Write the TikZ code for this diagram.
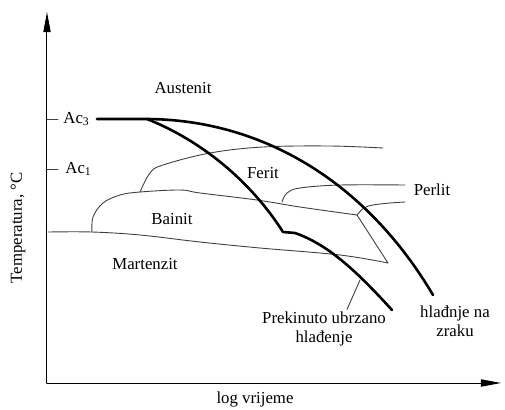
\documentclass[tikz,border=0pt]{standalone}
\usepackage{fontspec}
\setmainfont{Liberation Serif}
\usetikzlibrary{arrows.meta}
\begin{document}
\begin{tikzpicture}[x=0.5pt, y=-0.5pt, line join=round, line cap=round,
        thin line/.style={line width=0.45pt, black!75},
        thick line/.style={line width=1.3pt},
        axis/.style={line width=0.5pt, -{Triangle[length=10pt, width=3.6pt]}},
        lbl/.style={font=\fontsize{8.4}{9.5}\selectfont, inner sep=1pt}]
    \useasboundingbox (0,0) rectangle (505,409);
    \coordinate (O) at (47,383);
    \coordinate (Ytop) at (47,12);
    \coordinate (Xend) at (501,383);
    \draw[axis] (O) -- (Ytop);
    \draw[axis] (O) -- (Xend);

    % ticks and labels
    \coordinate (T3) at (58,119);
    \coordinate (T1) at (58,169);
    \draw[thin line] (47,119) -- (T3);
    \draw[thin line] (47,169) -- (T1);
    \node[lbl, anchor=west] (Ac3) at (61,119) {Ac\textsubscript{3}};
    \node[lbl, anchor=west] (Ac1) at (63,169) {Ac\textsubscript{1}};

    \node[lbl, rotate=90] (ylab) at (18,228) {Temperatura, °C};
    \node[lbl] (xlab) at (255,399) {log vrijeme};

    % transformation lines
    \draw[thin line] plot[smooth, tension=0.6] coordinates {(48,232) (92,232) (140,235) (200,242) (260,248) (340,255) (388,263)};
    \draw[thin line] plot[smooth, tension=0.6] coordinates {(92,232) (93,217) (103,203) (120,195) (140,192) (180,190) (200,193) (257,200) (300,207) (357,215)};
    \draw[thin line] plot[smooth, tension=0.6] coordinates {(140,192) (150,173) (163,165) (210,153) (263,147) (330,146) (383,148)};
    \draw[thin line] plot[smooth, tension=0.6] coordinates {(282,202) (287,193) (300,188) (340,185) (405,185)};
    \draw[thin line] plot[smooth, tension=0.6] coordinates {(357,215) (364,208) (373,205) (390,203) (405,202)};
    \draw[thin line] (357,215) -- (388,263);

    % cooling curves
    \coordinate (Z1) at (97,119);
    \coordinate (Z2) at (145,119);
    \coordinate (Z3) at (433,295);
    \draw[thick line] (Z1) -- (Z2) .. controls (260,119) and (365,180) .. (Z3);
    \coordinate (U1) at (147,119);
    \coordinate (U2) at (283,232);
    \coordinate (U3) at (295,233);
    \coordinate (U4) at (392,310);
    \draw[thick line] (U1) .. controls (200,140) and (250,180) .. (U2) -- (U3)
        .. controls (330,245) and (360,275) .. (U4);

    % phase names
    \node[lbl] (aus) at (183,88) {Austenit};
    \node[lbl] (fer) at (263,173) {Ferit};
    \node[lbl] (per) at (432,190) {Perlit};
    \node[lbl] (bai) at (172,219) {Bainit};
    \node[lbl] (mar) at (145,264) {Martenzit};

    % curve labels
    \node[lbl, align=center] (prek) at (324,329) {Prekinuto ubrzano\\hlađenje};
    \node[lbl, align=center] (zrak) at (455,321) {hlađnje na\\zraku};
    \coordinate (P) at (360,280);
    \draw[thin line] (P) -- (prek.north -| 347,0);
\end{tikzpicture}
\end{document}
